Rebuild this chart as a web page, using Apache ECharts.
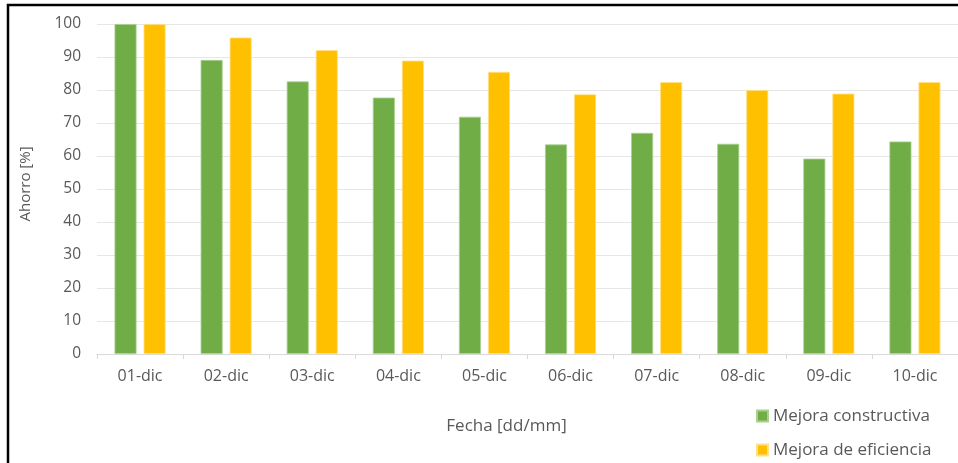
<!DOCTYPE html>
<html><head><meta charset="utf-8">
<script src="https://cdn.jsdelivr.net/npm/echarts@6/dist/echarts.min.js"></script>
<style>html,body{margin:0;padding:0;background:#fff}#c{width:958px;height:463px}</style>
</head><body><div id="c"></div>
<script>
const categories = ['01-dic','02-dic','03-dic','04-dic','05-dic','06-dic','07-dic','08-dic','09-dic','10-dic'];
const constructiva = [100, 89.1, 82.6, 77.7, 71.9, 63.5, 67.0, 63.7, 59.2, 64.4];
const eficiencia = [100, 95.9, 92.1, 88.9, 85.5, 78.7, 82.4, 80.0, 78.9, 82.4];
const seriesNames = ['Mejora constructiva', 'Mejora de eficiencia'];
const yTicks = {min: 0, max: 100, interval: 10};

const chart = echarts.init(document.getElementById('c'), null, {renderer: 'canvas'});
const txt = '#595959';
const font = 'Open Sans';
chart.setOption({
  animation: false,
  textStyle: {fontFamily: font},
  grid: {left: 97, top: 24, width: 871, height: 330, containLabel: false},
  legend: {
    orient: 'vertical', left: 756, top: 404, padding: 0,
    itemWidth: 11, itemHeight: 11, itemGap: 10, lineHeight: 24,
    icon: 'rect',
    textStyle: {fontSize: 17, color: txt, fontFamily: font, lineHeight: 24},
    data: seriesNames
  },
  xAxis: {
    type: 'category', data: categories,
    name: 'Fecha [dd/mm]', nameLocation: 'middle', nameGap: 64,
    nameTextStyle: {fontSize: 17, color: txt, padding: [0, 42, 0, 0]},
    axisLine: {lineStyle: {color: '#d9d9d9', width: 1}},
    axisTick: {show: true, length: 5, lineStyle: {color: '#d9d9d9'}},
    axisLabel: {fontSize: 16, color: txt, margin: 14}
  },
  yAxis: {
    type: 'value', min: yTicks.min, max: yTicks.max, interval: yTicks.interval,
    name: 'Ahorro [%]', nameLocation: 'middle', nameGap: 64,
    nameTextStyle: {fontSize: 15, color: txt, padding: [0, 0, 0, 10]},
    axisLine: {show: false}, axisTick: {show: false},
    axisLabel: {fontSize: 15.5, color: txt, margin: 16},
    splitLine: {lineStyle: {color: '#e6e6e6', width: 1}}
  },
  series: [
    {name: seriesNames[0], type: 'bar', data: constructiva, barWidth: 22, barGap: '32%',
     itemStyle: {color: '#70AD47', borderColor: '#a9d18e', borderWidth: 0.8}},
    {name: seriesNames[1], type: 'bar', data: eficiencia, barWidth: 22,
     itemStyle: {color: '#FFC000', borderColor: '#ffe08a', borderWidth: 0.8}}
  ],
  graphic: [
    {type: 'rect', shape: {x: 8, y: 5, width: 1100, height: 600}, style: {fill: 'none', stroke: '#000', lineWidth: 2.5}, silent: true, z: 100}
  ]
});
</script></body></html>
